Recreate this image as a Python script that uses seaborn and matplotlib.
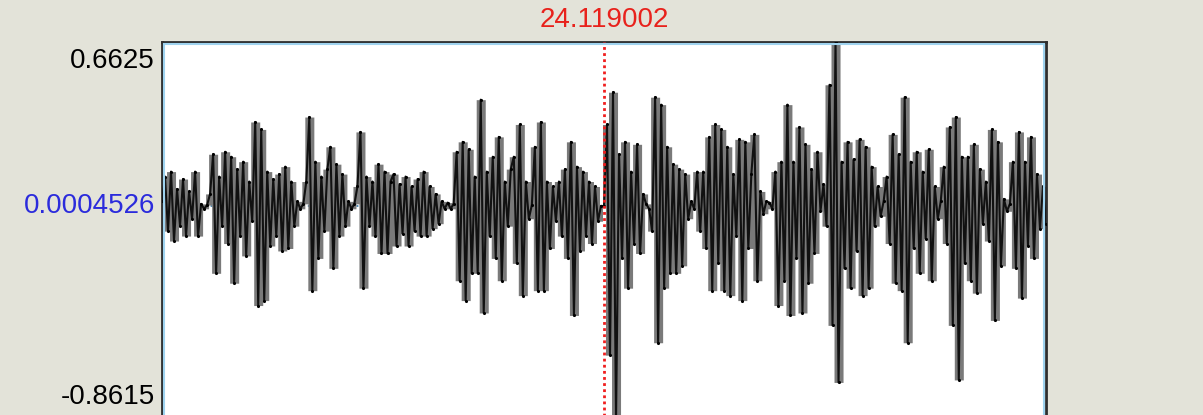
import matplotlib
matplotlib.use('Agg')
import matplotlib.pyplot as plt
import numpy as np
import pandas as pd
import seaborn as sns
from matplotlib.patches import Rectangle

# sound window: sample values, burst by burst
fs = 11025
cursor_time = 24.119002
cursor_value = 0.0004526
cursor_index = 147
y_min, y_max = -0.8615, 0.6625

burst_1 = [0.02, 0.12, -0.10, 0.14, -0.14, 0.07, -0.08, 0.11, -0.12, 0.06, -0.05, 0.14, -0.12]
gap_1 = [0.01, -0.01, 0.005]
burst_2 = [0.05, 0.21, -0.27, 0.12, -0.08, 0.22, -0.15, 0.20, -0.31, 0.15, -0.12, 0.18, -0.20, 0.10,
           -0.06, 0.34, -0.40, 0.31, -0.38, 0.14, -0.16, 0.11, -0.12, 0.13, -0.18, 0.16, -0.17, 0.10, -0.08]
gap_2 = [0.02, -0.01, 0.01]
burst_3 = [0.10, 0.36, -0.34, 0.18, -0.21, 0.12, -0.10, 0.15, 0.24, -0.25, 0.17, -0.12, 0.13, -0.08]
gap_3 = [0.02, -0.01, 0.01]
burst_4 = [0.08, 0.30, -0.33, 0.12, -0.08, 0.10, -0.12, 0.17, -0.19, 0.14, -0.19, 0.10, 0.13, -0.16,
           0.09, -0.11, 0.12, -0.16, 0.08, -0.10, 0.11, -0.12, 0.14, -0.12, 0.08, -0.09, 0.05, -0.07]
gap_4 = [0.02, -0.01, 0.015, -0.01, 0.01]
burst_5 = [0.22, -0.30, 0.26, -0.38, 0.23, -0.27, 0.12, -0.27, 0.43, -0.43, 0.14, -0.12, 0.20,
           -0.21, 0.28, -0.30, 0.10, -0.08, 0.15, 0.20, -0.23, 0.33, -0.36, 0.10, -0.05]
gap_5 = [0.005]
burst_6 = [0.24, -0.34, 0.34, -0.34, 0.10, -0.17, 0.08, -0.06, 0.10, -0.12, 0.15, -0.21, 0.26,
           -0.44, 0.16, -0.18, 0.14, -0.12, 0.10, -0.15, 0.08, -0.06]
gap_6 = [0.002, cursor_value]
burst_7 = [0.33, -0.60, 0.46, -0.8615, 0.21, -0.21, 0.26, -0.33, 0.14, -0.15, 0.25, -0.19, 0.05]
gap_7 = [0.01, -0.01]
burst_8 = [-0.10, 0.44, -0.55, 0.41, -0.33, 0.24, -0.27, 0.17, -0.27, 0.15, -0.24, 0.13]
gap_8 = [-0.05, 0.02, -0.01]
burst_9 = [0.14, -0.10, 0.14, -0.17, 0.28, -0.34, 0.33, -0.23, 0.31, -0.34, 0.24, -0.36, 0.13,
           -0.12, 0.27, -0.38, 0.26, -0.17, 0.13, 0.29, -0.30, 0.06]
gap_9 = [-0.03, 0.02, 0.015, -0.01]
burst_10 = [0.14, -0.40, 0.18, -0.30, 0.41, -0.44, 0.18, -0.21, 0.32, -0.43, 0.25, -0.31, 0.15, -0.19, 0.22]
gap_10 = [-0.02]
burst_11 = [0.09, -0.08, 0.49, -0.48, 0.6625, -0.71, 0.18, -0.25, 0.26, -0.33, 0.19, -0.18, 0.27,
            -0.36, 0.24, -0.33, 0.16, -0.08, 0.08]
gap_11 = [-0.04, 0.02]
burst_12 = [0.12, -0.15, 0.29, -0.31, 0.21, -0.34, 0.44, -0.55, 0.18, -0.17, 0.22, -0.27, 0.14,
            -0.13, 0.23, -0.30, 0.08]
gap_12 = [-0.05, 0.02]
burst_13 = [0.16, -0.15, 0.32, -0.48, 0.36, -0.70, 0.20, -0.23, 0.20, -0.30, 0.25, -0.35, 0.15,
            -0.07, 0.10, -0.14, 0.31, -0.46, 0.26, -0.24]
gap_13 = [0.03, -0.02, 0.01]
burst_14 = [0.18, -0.25, 0.30, -0.37, 0.18, -0.16, 0.28, -0.21, 0.13, -0.09, 0.08, -0.07]

segments = [burst_1, gap_1, burst_2, gap_2, burst_3, gap_3, burst_4, gap_4, burst_5, gap_5,
            burst_6, gap_6, burst_7, gap_7, burst_8, gap_8, burst_9, gap_9, burst_10, gap_10,
            burst_11, gap_11, burst_12, gap_12, burst_13, gap_13, burst_14]


def build_frame():
    amp = np.concatenate([np.asarray(s, dtype=float) for s in segments])
    t0 = cursor_time - cursor_index / fs
    t = t0 + np.arange(len(amp)) / fs
    return pd.DataFrame({'time': t, 'amplitude': amp})


def main():
    df = build_frame()
    t = df['time'].to_numpy()
    a = df['amplitude'].to_numpy()

    sns.set_style('white')
    plt.rcParams['font.family'] = ['Liberation Sans', 'DejaVu Sans']

    bg = '#e3e3d9'
    fig = plt.figure(figsize=(12.03, 4.15), dpi=100, facecolor=bg)
    ax = fig.add_axes([162 / 1203, -5 / 415, 884 / 1203, 378 / 415])
    ax.set_facecolor('white')

    # faint dotted zero line behind the wave
    ax.axhline(0, color='#4f89b3', lw=1.4, ls=(0, (1, 4)), zorder=1)

    # grey mass: envelope of each sample and its neighbours, black polyline on top
    amp = df['amplitude']
    upper = amp.rolling(3, center=True, min_periods=1).max().to_numpy()
    lower = amp.rolling(3, center=True, min_periods=1).min().to_numpy()
    ax.fill_between(t, upper, lower, step='mid', color='#7a7a7a', lw=0, zorder=2)
    sns.lineplot(data=df, x='time', y='amplitude', ax=ax, sort=False, color='#111111',
                 lw=1.5, zorder=3)
    ax.scatter(t, a, s=5, color='black', lw=0, zorder=3)

    # cursor
    ax.axvline(cursor_time, color='#f01e1e', lw=2, ls=(0, (1, 1.2)), zorder=4)

    ax.set_xlim(t[0], t[-1])
    ax.set_ylim(y_min, y_max)
    ax.set_xticks([])
    ax.set_yticks([])
    ax.set_xlabel('')
    ax.set_ylabel('')

    for sp in ax.spines.values():
        sp.set_color('#2e2e2e')
        sp.set_linewidth(2)
        sp.set_visible(True)
    ax.add_patch(Rectangle((1.6 / 884, 0), 1 - 3.2 / 884, 1 - 1.8 / 378, transform=ax.transAxes,
                           fill=False, edgecolor='#9fd3ef', lw=1.5, zorder=5, clip_on=False))

    # labels
    fs_txt = 20
    fig.text(155 / 1203, 1 - 61 / 415, f'{y_max:.4f}', ha='right', va='center',
             fontsize=fs_txt, color='black')
    fig.text(155 / 1203, 1 - 397 / 415, f'{y_min:.4f}', ha='right', va='center',
             fontsize=fs_txt, color='black')
    ax.text(-7 / 884, cursor_value, f'{cursor_value:.7f}', transform=ax.get_yaxis_transform(),
            ha='right', va='center', fontsize=fs_txt, color='#2b2bdc', clip_on=False)
    ax.annotate(f'{cursor_time:.6f}', xy=(cursor_time, 1), xycoords=('data', 'axes fraction'),
                xytext=(0, 15.5), textcoords='offset points', ha='center', va='center',
                fontsize=fs_txt, color='#e8221c', annotation_clip=False)

    fig.savefig('out.png', dpi=100, facecolor=bg)


if __name__ == '__main__':
    main()
